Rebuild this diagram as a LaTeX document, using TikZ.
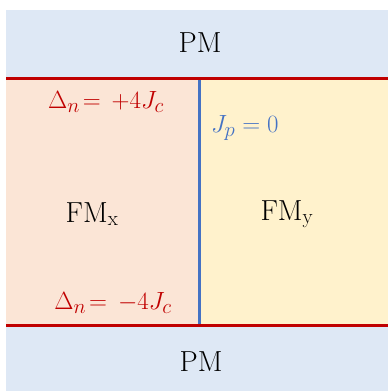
\documentclass[tikz,border=0pt]{standalone}
\usepackage{tikz}
\usetikzlibrary{positioning,calc}
\usepackage{amsmath}
\definecolor{PMBlue}{HTML}{DEE8F5}
\definecolor{FMOrange}{HTML}{FBE5D6}
\definecolor{FMYellow}{HTML}{FFF2CC}
\definecolor{WallRed}{HTML}{C00000}
\definecolor{WallBlue}{HTML}{4472C4}
\tikzset{
  lbl/.style={inner sep=0pt, font=\fontsize{29}{34}\selectfont},
  redlbl/.style={lbl, text=WallRed},
  bluelbl/.style={inner sep=0pt, text=WallBlue, font=\fontsize{31}{36}\selectfont},
  redwall/.style={draw=WallRed, line width=3pt},
  bluewall/.style={draw=WallBlue, line width=3pt}
}

\begin{document}
\begin{tikzpicture}[x=1pt,y=-1pt]
\useasboundingbox (0,0) rectangle (388,391);
% regions
\fill[PMBlue] (6,10) rectangle (388,78);
\fill[PMBlue] (6,325) rectangle (388,391);
\fill[FMOrange] (6,78) rectangle (199,325);
\fill[FMYellow] (199,78) rectangle (388,325);
% walls
\coordinate (tl) at (6,78);
\coordinate (tr) at (388,78);
\coordinate (bl) at (6,325);
\coordinate (br) at (388,325);
\coordinate (mt) at (199,80);
\coordinate (mb) at (199,325);
\draw[bluewall] (mt) -- (mb);
\draw[redwall] (tl) -- (tr);
\draw[redwall] (bl) -- (br);
% labels
\node[lbl] (pmtop) at (200,43) {PM};
\node[lbl] (pmbot) at (201,362) {PM};
\node[lbl] (fmx) at (92,214) {FM$_\mathrm{x}$};
\node[lbl] (fmy) at (287,214) {FM$_\mathrm{y}$};
\node[redlbl] (dup) at (106,102) {$\Delta_n\!=\,+4J_c$};
\node[redlbl] (ddown) at (113,303) {$\Delta_n\!=\,-4J_c$};
\node[bluelbl,anchor=west] (jp) at (211,128) {$J_p = 0$};
\end{tikzpicture}
\end{document}
